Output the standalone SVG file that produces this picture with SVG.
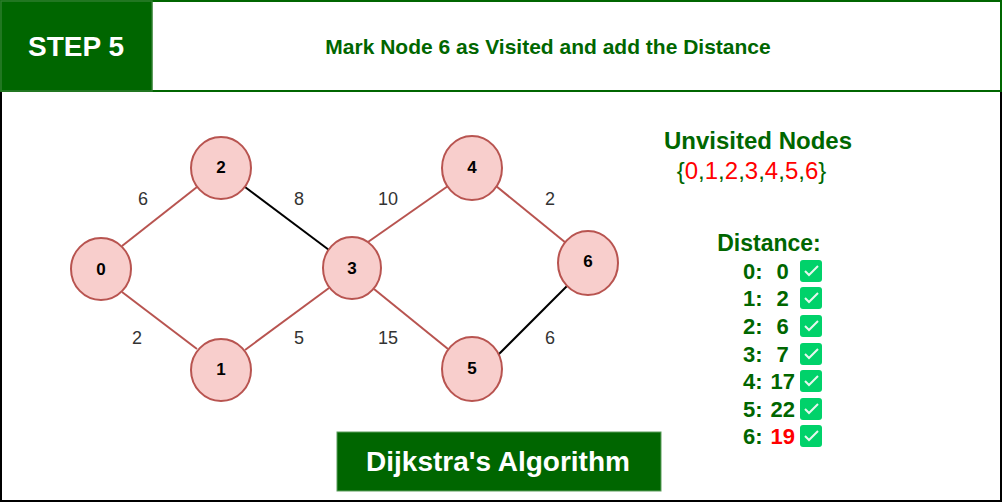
<svg xmlns="http://www.w3.org/2000/svg" width="1002" height="502" viewBox="0 0 1002 502">
<style>
text{font-family:"Liberation Sans",Arial,sans-serif}
.n ellipse{fill:#f8cecc;stroke:#b85450;stroke-width:2}
.n text{font-size:17px;font-weight:700;fill:#000;text-anchor:middle}
.e{stroke:#b85450;stroke-width:2;fill:none}
.k{stroke:#000;stroke-width:2;fill:none}
.w{font-size:18px;fill:#333;text-anchor:middle}
.g{fill:#006600;font-weight:700}
.d{font-size:22px;fill:#006600;font-weight:700}
.r{fill:#ff0000}
.b{fill:#00d26a}
.c{fill:none;stroke:#e6f7ee;stroke-width:2}
</style>
<rect x="1" y="1" width="1000" height="500" fill="#fff" stroke="#000" stroke-width="2"/>
<g id="header">
<rect x="1" y="1" width="1000" height="90" fill="#fff" stroke="#006600" stroke-width="2"/>
<rect x="1" y="1" width="151" height="90" fill="#006600" stroke="#2d7d2d" stroke-width="1.500"/>
<text x="76" y="56" font-size="28" font-weight="700" fill="#fff" text-anchor="middle">STEP 5</text>
<text x="548" y="54" font-size="21" class="g" text-anchor="middle">Mark Node 6 as Visited and add the Distance</text>
</g>
<g id="connectors">
<line class="e" x1="122" y1="246" x2="197" y2="187"/>
<line class="e" x1="122" y1="292" x2="197" y2="349"/>
<line class="k" x1="245" y1="187" x2="329" y2="250"/>
<line class="e" x1="245" y1="350" x2="329" y2="288"/>
<line class="e" x1="368" y1="242" x2="448" y2="186"/>
<line class="e" x1="374" y1="289" x2="448" y2="349"/>
<line class="e" x1="496" y1="186" x2="566" y2="243"/>
<line class="k" x1="497" y1="356" x2="568" y2="285"/>
</g>
<g id="weights">
<text class="w" x="143" y="205">6</text>
<text class="w" x="137" y="344">2</text>
<text class="w" x="299" y="205">8</text>
<text class="w" x="299" y="344">5</text>
<text class="w" x="388" y="205">10</text>
<text class="w" x="388" y="344">15</text>
<text class="w" x="550" y="205">2</text>
<text class="w" x="550" y="344">6</text>
</g>
<g id="node0" class="n"><ellipse cx="101" cy="269" rx="30" ry="31"/><text x="101" y="275">0</text></g>
<g id="node1" class="n"><ellipse cx="221" cy="370" rx="30" ry="31"/><text x="221" y="375">1</text></g>
<g id="node2" class="n"><ellipse cx="221" cy="168" rx="30" ry="31"/><text x="221" y="173">2</text></g>
<g id="node3" class="n"><ellipse cx="352" cy="268" rx="29" ry="31"/><text x="352" y="274">3</text></g>
<g id="node4" class="n"><ellipse cx="472" cy="168" rx="30" ry="32"/><text x="472" y="173">4</text></g>
<g id="node5" class="n"><ellipse cx="472" cy="369" rx="30" ry="32"/><text x="472" y="374">5</text></g>
<g id="node6" class="n"><ellipse cx="588" cy="263" rx="30" ry="32"/><text x="588" y="267">6</text></g>
<g id="unvisited">
<text x="758" y="149" font-size="24" class="g" text-anchor="middle">Unvisited Nodes</text>
<text x="751.500" y="179" font-size="24" text-anchor="middle" fill="#006600">{<tspan class="r">0</tspan>,<tspan class="r">1</tspan>,<tspan class="r">2</tspan>,<tspan class="r">3</tspan>,<tspan class="r">4</tspan>,<tspan class="r">5</tspan>,<tspan class="r">6</tspan>}</text>
</g>
<g id="distance">
<text x="769" y="251" font-size="23" class="g" text-anchor="middle">Distance:</text>
<text class="d" x="743" y="279">0:</text><text class="d" x="776.500" y="279">0</text>
<text class="d" x="743" y="306">1:</text><text class="d" x="776.500" y="306">2</text>
<text class="d" x="743" y="334">2:</text><text class="d" x="776.500" y="334">6</text>
<text class="d" x="743" y="362">3:</text><text class="d" x="776.500" y="362">7</text>
<text class="d" x="743" y="389">4:</text><text class="d" x="770.500" y="389">17</text>
<text class="d" x="743" y="417">5:</text><text class="d" x="770.500" y="417">22</text>
<text class="d" x="743" y="444">6:</text><text class="d" x="770.500" y="444" style="fill:#ff0000">19</text>
</g>
<g id="checks">
<rect class="b" x="800" y="260" width="22" height="22" rx="3"/><path class="c" d="M805 271l4 4 9-9"/>
<rect class="b" x="800" y="287" width="22" height="22" rx="3"/><path class="c" d="M805 298l4 4 9-9"/>
<rect class="b" x="800" y="315" width="22" height="22" rx="3"/><path class="c" d="M805 326l4 4 9-9"/>
<rect class="b" x="800" y="343" width="22" height="22" rx="3"/><path class="c" d="M805 354l4 4 9-9"/>
<rect class="b" x="800" y="370" width="22" height="22" rx="3"/><path class="c" d="M805 381l4 4 9-9"/>
<rect class="b" x="800" y="398" width="22" height="22" rx="3"/><path class="c" d="M805 409l4 4 9-9"/>
<rect class="b" x="800" y="425" width="22" height="22" rx="3"/><path class="c" d="M805 436l4 4 9-9"/>
</g>
<g id="title">
<rect x="337" y="432" width="324" height="59" fill="#006600" stroke="#5c9e5c"/>
<text x="498" y="471" font-size="28" font-weight="700" fill="#fff" text-anchor="middle">Dijkstra's Algorithm</text>
</g>
</svg>
